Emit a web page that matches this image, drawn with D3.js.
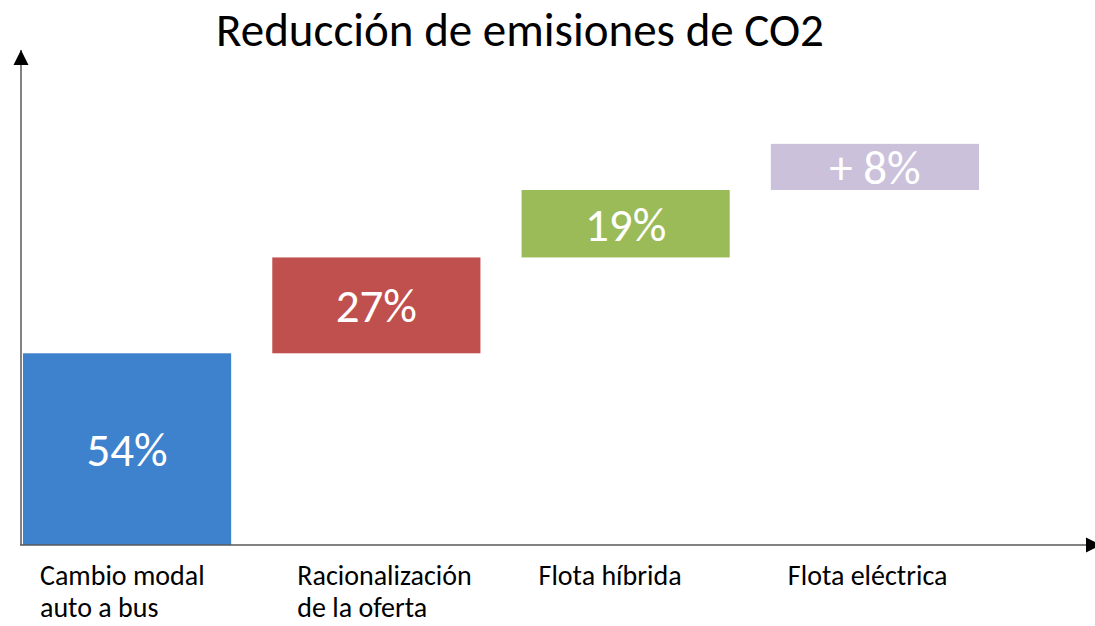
<!DOCTYPE html>
<head>
<meta charset="utf-8">
<title>Reducción de emisiones de CO2</title>
<style>
   body {
		   margin: 0;
		   background: #fff;
   }
   text {
		   font-family: Carlito, Calibri, Lato, sans-serif;
   }
   .title {
		   font-size: 47px;
		   fill: #000;
		   text-anchor: middle;
   }
   .value {
		   font-size: 47px;
		   fill: #fff;
		   text-anchor: middle;
   }
   .cat {
		   font-size: 28px;
		   fill: #000;
   }
</style>
</head>
<body>
<div id="chartDiv"></div>
<script src="https://d3js.org/d3.v7.min.js"></script>
<script>

   // Data
   var categories = [["Cambio modal", "auto a bus"], ["Racionalización", "de la oferta"], ["Flota híbrida"], ["Flota eléctrica"]];
   var valueLabels = ["54%", "27%", "19%", "+ 8%"];
   // drawn heights of the steps (last one is drawn taller than its "+ 8%" label)
   var values = [54, 27, 19, 13];
   var colors = ["#3E81CD", "#C0504D", "#9BBB59", "#CBC1DB"];

   var width = 1095, height = 626;
   var originX = 21, originY = 545;

   var svg = d3.select("#chartDiv")
	 .append("svg")
	   .attr("width", width)
	   .attr("height", height);

   var x = d3.scaleBand()
	   .domain(d3.range(values.length))
	   .range([23, 979])
	   .paddingInner(0.165)
	   .paddingOuter(0);

   var y = d3.scaleLinear()
	   .domain([0, 100])
	   .range([originY, 190]);

   // cumulative start/end of each step
   var steps = [], acc = 0;
   values.forEach(function(v, i) {
	   steps.push({i: i, start: acc, end: acc + v});
	   acc += v;
   });

   // Title
   svg.append("text")
	   .attr("class", "title")
	   .attr("x", 520)
	   .attr("y", 46)
	   .text("Reducción de emisiones de CO2");

   // Bars
   svg.selectAll("rect.bar")
	   .data(steps)
	   .enter().append("rect")
	   .attr("class", "bar")
	   .attr("x", function(d) { return x(d.i); })
	   .attr("width", x.bandwidth())
	   .attr("y", function(d) { return y(d.end); })
	   .attr("height", function(d) { return y(d.start) - y(d.end); })
	   .style("fill", function(d) { return colors[d.i]; });

   svg.selectAll("text.value")
	   .data(steps)
	   .enter().append("text")
	   .attr("class", "value")
	   .attr("x", function(d) { return x(d.i) + x.bandwidth() / 2; })
	   .attr("y", function(d) { return (y(d.start) + y(d.end)) / 2; })
	   .attr("dy", "0.36em")
	   .text(function(d) { return valueLabels[d.i]; });

   // Axes with arrows
   var defs = svg.append("defs");
   defs.append("marker")
	   .attr("id", "arrow")
	   .attr("viewBox", "0 0 10 10")
	   .attr("refX", 10)
	   .attr("refY", 5)
	   .attr("markerUnits", "userSpaceOnUse")
	   .attr("markerWidth", 15)
	   .attr("markerHeight", 16)
	   .attr("orient", "auto")
	 .append("path")
	   .attr("d", "M0,0L10,5L0,10Z")
	   .style("fill", "#000");

   svg.append("line")
	   .attr("x1", originX).attr("y1", originY)
	   .attr("x2", originX).attr("y2", 50)
	   .style("stroke", "#595959")
	   .style("stroke-width", 1.5)
	   .attr("marker-end", "url(#arrow)");

   svg.append("line")
	   .attr("x1", originX - 1).attr("y1", originY)
	   .attr("x2", 1101).attr("y2", originY)
	   .style("stroke", "#595959")
	   .style("stroke-width", 1.5)
	   .attr("marker-end", "url(#arrow)");

   // Category labels
   var cat = svg.selectAll("text.cat")
	   .data(categories)
	   .enter().append("text")
	   .attr("class", "cat")
	   .attr("x", function(d, i) { return x(i) + 17 + (i === 1 ? 8 : 0); })
	   .attr("y", 585);

   cat.selectAll("tspan")
	   .data(function(d) { return d; })
	   .enter().append("tspan")
	   .attr("x", function() { return d3.select(this.parentNode).attr("x"); })
	   .attr("dy", function(d, j) { return j === 0 ? 0 : 32; })
	   .text(function(d) { return d; });

</script>
</body>
